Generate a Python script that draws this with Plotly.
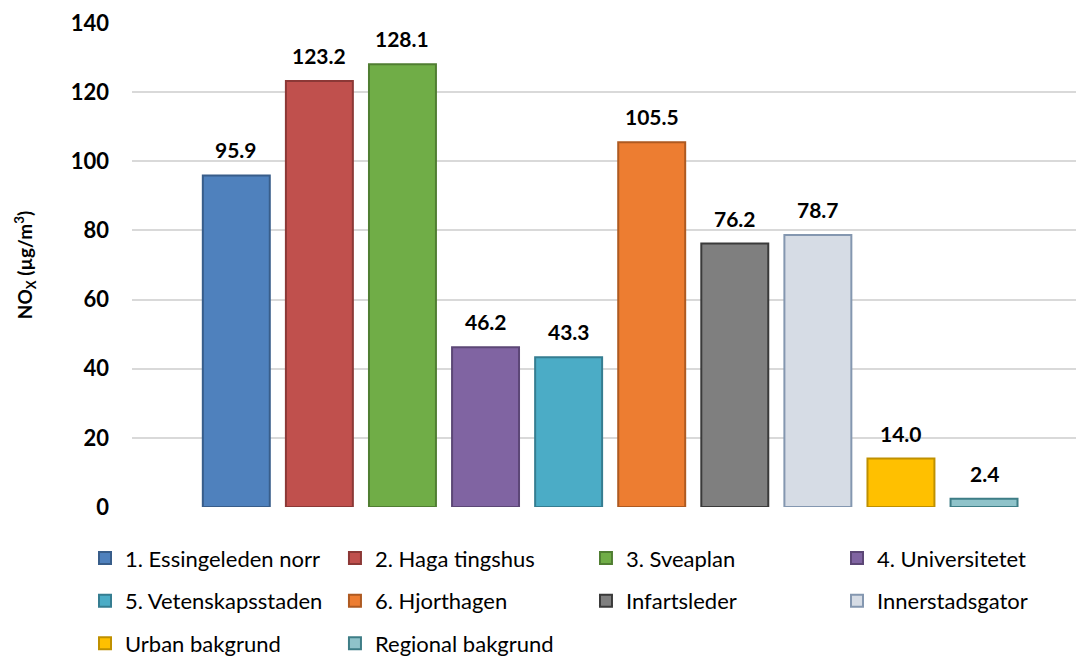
import plotly.graph_objects as go

# Annual mean NOx per monitoring site / site type
sites = [
    "1. Essingeleden norr",
    "2. Haga tingshus",
    "3. Sveaplan",
    "4. Universitetet",
    "5. Vetenskapsstaden",
    "6. Hjorthagen",
    "Infartsleder",
    "Innerstadsgator",
    "Urban bakgrund",
    "Regional bakgrund",
]
nox_values = [95.9, 123.2, 128.1, 46.2, 43.3, 105.5, 76.2, 78.7, 14.0, 2.4]
fill_colors = ["#4F81BD", "#C0504D", "#70AD47", "#8064A2", "#4BACC6",
               "#ED7D31", "#7F7F7F", "#D6DCE5", "#FFC000", "#8FC3CA"]
edge_colors = ["#385D8A", "#8C3836", "#507E32", "#5C4776", "#357D91",
               "#AE5A21", "#3A3A3A", "#8497B0", "#BF9000", "#3E7D86"]
y_ticks = [0, 20, 40, 60, 80, 100, 120, 140]

FONT = "Lato"
# legend laid out as four columns, entries read row by row
legend_ids = ["legend", "legend2", "legend3", "legend4",
              "legend", "legend2", "legend3", "legend4",
              "legend", "legend2"]

fig = go.Figure()
for name, val, fc, ec, lg in zip(sites, nox_values, fill_colors, edge_colors, legend_ids):
    fig.add_trace(go.Bar(
        x=[name], y=[val], name=name,
        marker=dict(color=fc, line=dict(color=ec, width=2)),
        width=0.806, legend=lg, legendgroup=name,
    ))
    fig.add_annotation(
        x=name, y=val, xref="x", yref="y",
        text=f"{val:.1f}", showarrow=False,
        yanchor="bottom", yshift=11,
        font=dict(family=FONT, size=21, color="#000000", weight="bold"),
    )

legend_common = dict(
    orientation="v", xanchor="left", yanchor="top", y=-0.0626,
    tracegroupgap=11,
    font=dict(family=FONT, size=22, color="#000000"),
    bgcolor="rgba(0,0,0,0)", traceorder="grouped",
)

fig.update_layout(
    width=1076, height=657,
    margin=dict(l=132, r=0, t=23, b=150.3, autoexpand=False),
    paper_bgcolor="white", plot_bgcolor="white",
    barmode="overlay",
    showlegend=True,
    legend=dict(**legend_common, x=-0.0498),
    legend2=dict(**legend_common, x=0.2150),
    legend3=dict(**legend_common, x=0.4809),
    legend4=dict(**legend_common, x=0.7468),
    xaxis=dict(
        type="category", categoryorder="array", categoryarray=sites,
        range=[-1.2554, 10.107], showticklabels=False,
        showgrid=False, zeroline=False, showline=False, ticks="",
    ),
    yaxis=dict(
        range=[0, 140.01], tickvals=y_ticks,
        showgrid=True, gridcolor="#D9D9D9", gridwidth=1.5,
        zeroline=False, showline=False, ticks="",
        ticklabelstandoff=22,
        tickfont=dict(family=FONT, size=22, color="#000000", weight="bold"),
        title=dict(
            text="NO<sub>X</sub> (µg/m<sup>3</sup>)", standoff=33,
            font=dict(family=FONT, size=19, color="#000000", weight="bold"),
        ),
    ),
)

fig.write_html("out.html")
